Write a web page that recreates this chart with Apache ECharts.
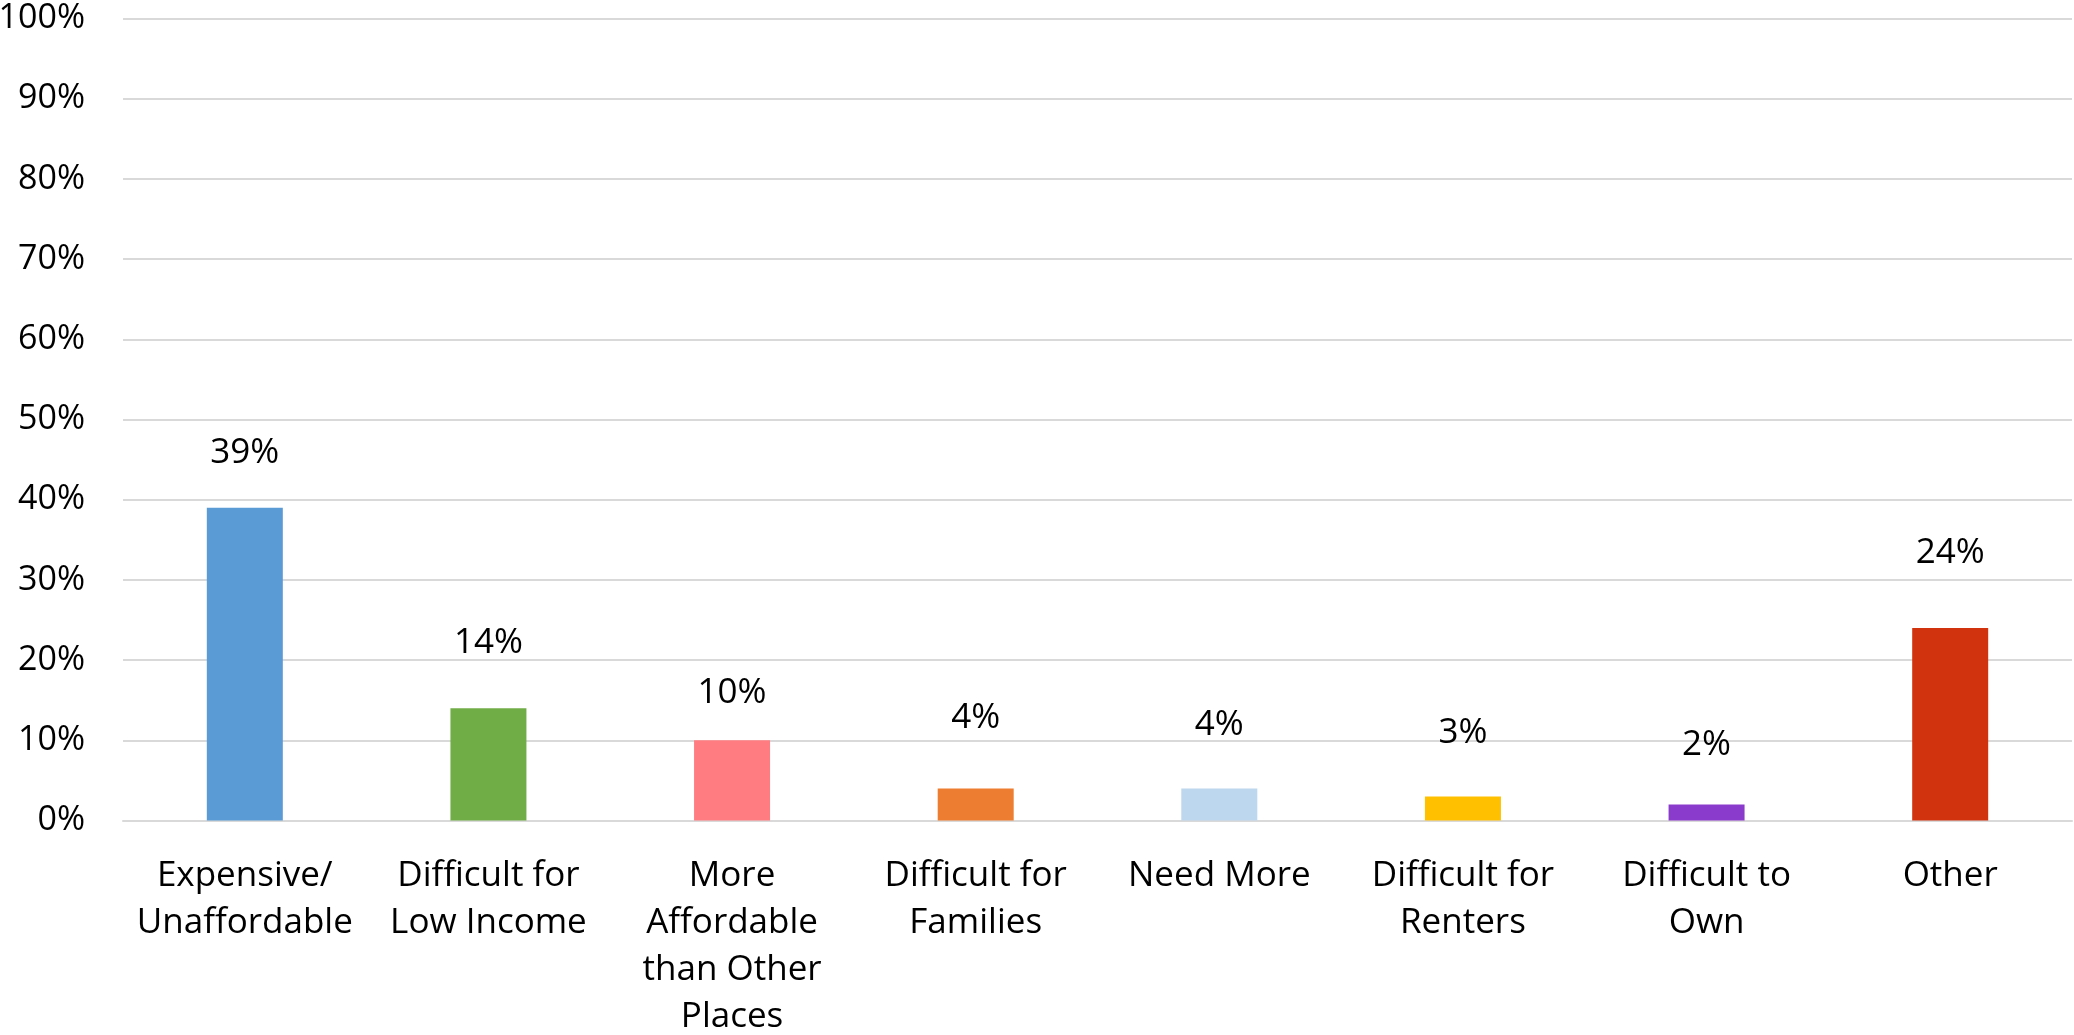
<!DOCTYPE html>
<html>
<head>
<meta charset="utf-8">
<script src="https://cdn.jsdelivr.net/npm/echarts@6/dist/echarts.min.js"></script>
<style>
html,body{margin:0;padding:0;background:#fff;}
#main{width:2074px;height:1035px;}
</style>
</head>
<body>
<div id="main"></div>
<script>
// ---- data ----
const categories = [
  "Expensive/\nUnaffordable",
  "Difficult for\nLow Income",
  "More\nAffordable\nthan Other\nPlaces",
  "Difficult for\nFamilies",
  "Need More",
  "Difficult for\nRenters",
  "Difficult to\nOwn",
  "Other"
];
const values = [39, 14, 10, 4, 4, 3, 2, 24];
const yTicks = [0, 10, 20, 30, 40, 50, 60, 70, 80, 90, 100];

// ---- styles ----
const barColors = ["#5B9BD5", "#70AD47", "#FF7C80", "#ED7D31", "#BDD7EE", "#FFC000", "#8B3BCB", "#D1330F"];
const labelDistances = [37, 48, 30, 53, 46, 46, 42, 57];
const FONT = "'Open Sans', 'Noto Sans', sans-serif";

const chart = echarts.init(document.getElementById('main'), null, {renderer: 'canvas'});
chart.setOption({
  backgroundColor: '#ffffff',
  animation: false,
  grid: {left: 123, right: 2, top: 18.5, bottom: 214.5, containLabel: false, outerBoundsMode: 'none'},
  xAxis: {
    type: 'category',
    data: categories,
    axisLine: {show: true, lineStyle: {color: '#D9D9D9', width: 2}},
    axisTick: {show: false},
    axisLabel: {
      interval: 0,
      color: '#000',
      fontFamily: FONT,
      fontSize: 35,
      lineHeight: 47,
      margin: 32,
      align: 'center'
    }
  },
  yAxis: {
    type: 'value',
    min: yTicks[0],
    max: yTicks[yTicks.length - 1],
    interval: yTicks[1] - yTicks[0],
    axisLine: {show: false},
    axisTick: {show: false},
    splitLine: {show: true, lineStyle: {color: '#D9D9D9', width: 2}},
    axisLabel: {
      color: '#000',
      fontFamily: FONT,
      fontSize: 34,
      margin: 38,
      formatter: '{value}%'
    }
  },
  series: [{
    type: 'bar',
    barWidth: 76,
    data: values.map((v, i) => ({
      value: v,
      itemStyle: {color: barColors[i]},
      label: {distance: labelDistances[i]}
    })),
    label: {
      show: true,
      position: 'top',
      color: '#000',
      fontFamily: FONT,
      fontSize: 35,
      lineHeight: 35,
      formatter: '{c}%'
    }
  }]
});
</script>
</body>
</html>
